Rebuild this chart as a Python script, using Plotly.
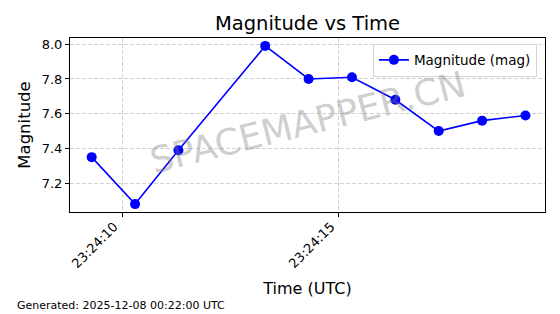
import plotly.graph_objects as go

times = ["2025-12-07 23:24:09.3", "2025-12-07 23:24:10.3", "2025-12-07 23:24:11.3",
         "2025-12-07 23:24:13.3", "2025-12-07 23:24:14.3", "2025-12-07 23:24:15.3",
         "2025-12-07 23:24:16.3", "2025-12-07 23:24:17.3", "2025-12-07 23:24:18.3",
         "2025-12-07 23:24:19.3"]
magnitude = [7.35, 7.08, 7.39, 7.99, 7.80, 7.81, 7.68, 7.50, 7.56, 7.59]
y_ticks = [7.2, 7.4, 7.6, 7.8, 8.0]
y_tick_labels = ["7.2", "7.4", "7.6", "7.8", "8.0"]
x_ticks = ["2025-12-07 23:24:10", "2025-12-07 23:24:15"]
x_tick_labels = ["23:24:10", "23:24:15"]

FONT = "DejaVu Sans"

fig = go.Figure()
fig.add_trace(go.Scatter(
    x=times, y=magnitude, mode="lines+markers", name="Magnitude (mag)",
    line=dict(color="#0000FF", width=1.6),
    marker=dict(color="#0000FF", size=10),
))

fig.update_layout(
    width=560, height=314,
    margin=dict(l=70, r=15, t=38, b=102),
    paper_bgcolor="white", plot_bgcolor="white",
    font=dict(family=FONT, color="black", size=12),
    title=dict(text="Magnitude vs Time", x=(70 + 545) / 2 / 560, xanchor="center",
               y=1 - 23 / 314, yanchor="middle",
               font=dict(family=FONT, size=19.5, color="black")),
    showlegend=True,
    legend=dict(x=0.983, y=0.968, xanchor="right", yanchor="top",
                bgcolor="rgba(255,255,255,0.8)", bordercolor="#d6d6d6", borderwidth=1,
                font=dict(family=FONT, size=13.5, color="black"),
                tracegroupgap=0),
)

fig.update_xaxes(
    type="date",
    range=["2025-12-07 23:24:08.8", "2025-12-07 23:24:19.75"],
    tickvals=x_ticks, ticktext=x_tick_labels, tickangle=-45,
    tickfont=dict(family=FONT, size=13, color="black"),
    ticklabelshift=-8, ticklabelstandoff=-3,
    ticks="outside", ticklen=4, tickcolor="black",
    showline=True, linecolor="black", linewidth=1, mirror=True,
    showgrid=True, gridcolor="#d3d3d3", griddash="4px,2px", gridwidth=1,
    zeroline=False,
    title=dict(text="Time (UTC)", font=dict(family=FONT, size=16, color="black"), standoff=12),
)
fig.update_yaxes(
    range=[7.0345, 8.0355],
    tickvals=y_ticks, ticktext=y_tick_labels,
    tickfont=dict(family=FONT, size=13, color="black"),
    ticks="outside", ticklen=4, tickcolor="black",
    showline=True, linecolor="black", linewidth=1, mirror=True,
    showgrid=True, gridcolor="#d3d3d3", griddash="4px,2px", gridwidth=1,
    zeroline=False,
    title=dict(text="Magnitude", font=dict(family=FONT, size=16.5, color="black"), standoff=6),
)

fig.add_annotation(
    text="SPACEMAPPER.CN", xref="paper", yref="paper",
    x=(307 - 70) / 475, y=(212 - 122) / 174, xanchor="center", yanchor="middle",
    showarrow=False, textangle=-14,
    font=dict(family=FONT, size=36, color="rgba(128,128,128,0.4)"),
)
fig.add_annotation(
    text="Generated: 2025-12-08 00:22:00 UTC", xref="paper", yref="paper",
    x=(15 - 70) / 475, y=(212 - 305) / 174, xanchor="left", yanchor="middle",
    showarrow=False, font=dict(family=FONT, size=11, color="black"),
)

fig.write_html("out.html")
